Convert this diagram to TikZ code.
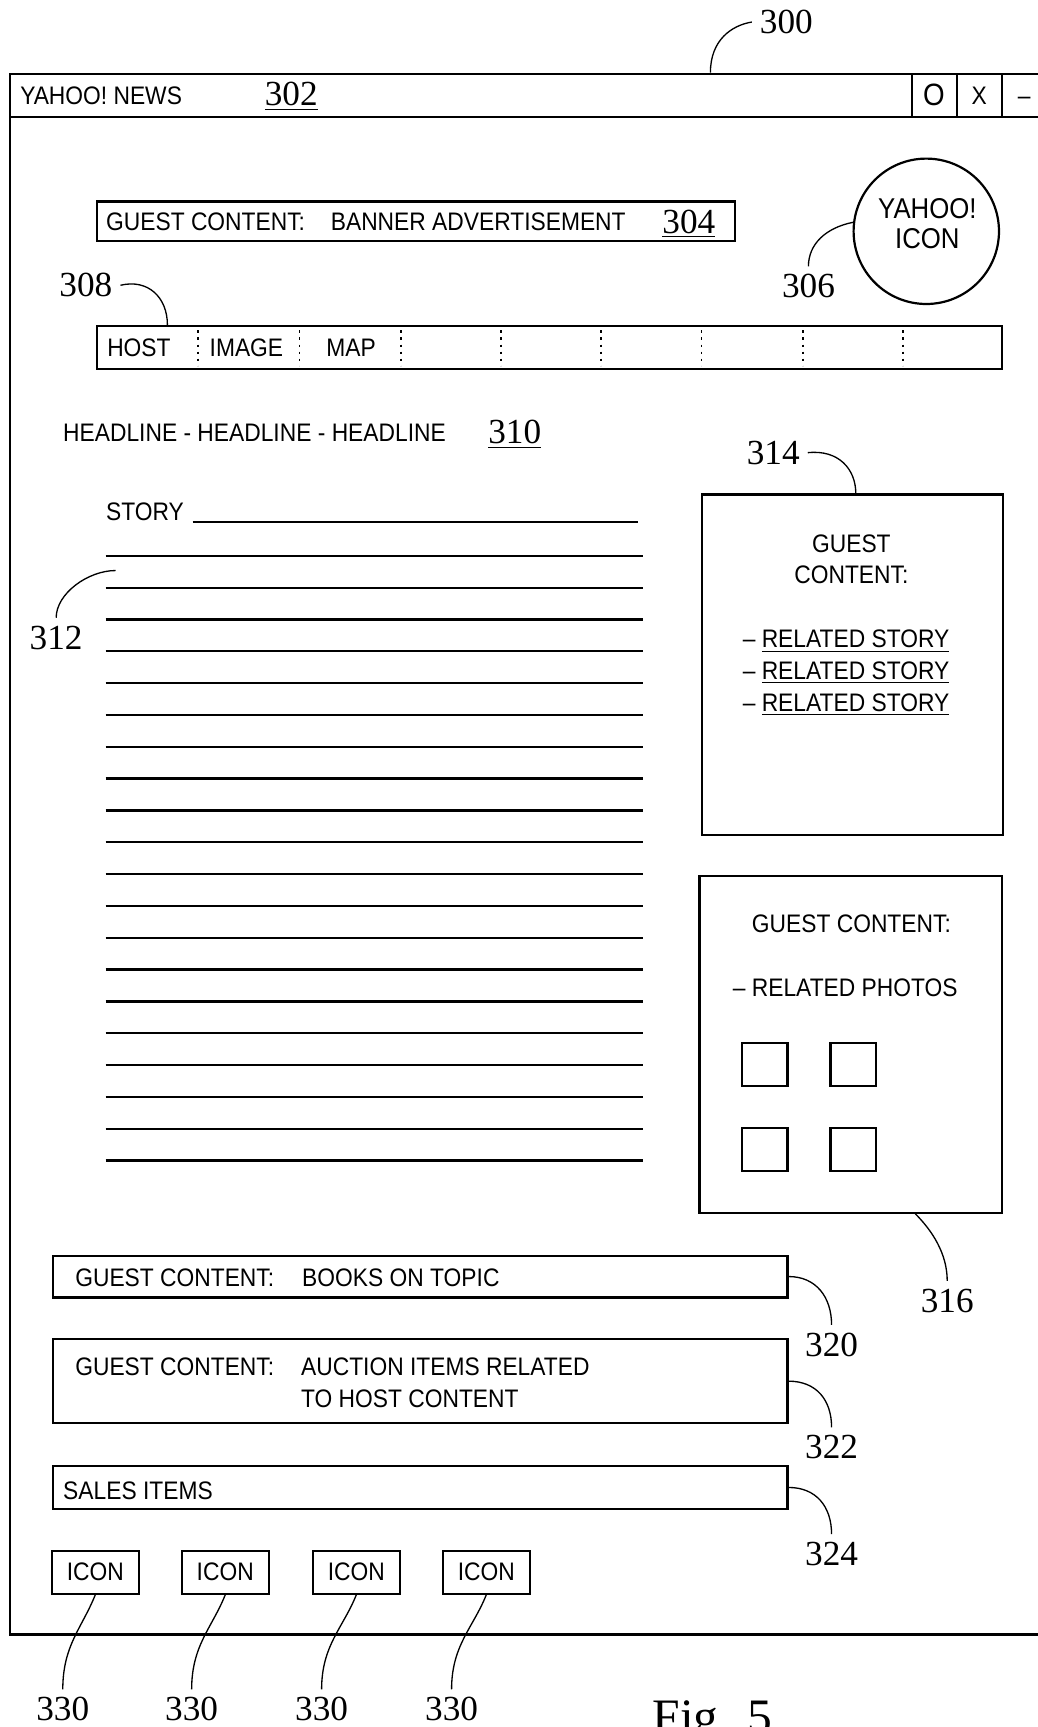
\documentclass[tikz,border=0pt]{standalone}
\usepackage{fontspec}
\newfontfamily\uifont[FakeStretch=0.9]{Liberation Sans}
\newfontfamily\numfont{Liberation Serif}
\usetikzlibrary{calc,fit}
\tikzset{box/.style={draw,line width=1pt,inner sep=0pt},
 txt/.style={font=\uifont\fontsize{11.5}{14}\selectfont,inner sep=0pt},
 num/.style={font=\numfont\fontsize{16}{18}\selectfont,inner sep=3.5pt},
 lead/.style={line width=0.6pt},rule/.style={line width=1pt},
 tabsep/.style={line width=0.8pt,dash pattern=on 1pt off 2.2pt}}

\begin{document}
\begin{tikzpicture}[x=0.5pt,y=-0.5pt]
\useasboundingbox (0,0) rectangle (942,1568);
% window and title bar
\node[box,fit={(9,67) (1000,1484)}] (win) {};
\node[box,fit={(9,67) (1000,106)}] (bar) {};
\node[txt,anchor=base west] (title) at (18,95) {YAHOO! NEWS};
\node[num,anchor=base west,inner sep=0pt] (n302) at (240,96) {\underline{302}};
\foreach \x in {828,869,910} \draw[rule] (\x,67) -- (\x,106);
\node[txt,anchor=base,font=\uifont\fontsize{14}{14}\selectfont] (bmax) at (848,96) {O};
\node[txt,anchor=base] (bclose) at (889,95) {X};
\node[txt,anchor=base] (bmin) at (930,95) {–};
\node[num] (n300) at (714,20) {300};
\draw[lead] ($(win.north west)+(637,0)$) .. controls +(0,-30) and +(-18,3) .. (n300.west);
% banner and logo
\node[box,fit={(88,183) (667,219)}] (banner) {};
\node[txt,anchor=base west] (bang) at (96,209) {GUEST CONTENT:};
\node[txt,anchor=base west] (bant) at (300,209) {BANNER ADVERTISEMENT};
\node[num,anchor=base west,inner sep=0pt] (n304) at (601,212) {\underline{304}};
\node[circle,draw,line width=1pt,minimum size=66pt,inner sep=0pt] (yicon) at (841,210) {};
\node[txt,align=center,font=\uifont\fontsize{13}{14}\selectfont] (yicontxt) at (842,203) {YAHOO!\\ICON};
\node[num] (n306) at (734,260) {306};
\draw[lead] (yicon.173) .. controls +(-25,5) and +(0,-20) .. (n306.north);
% tab row
\node[box,fit={(88,296) (910,335)}] (tabs) {};
\foreach \x in {180,272,364,455,546,637,729,820} \draw[tabsep] (\x,300) -- (\x,332);
\node[txt,anchor=base west] (thost) at (97,324) {HOST};
\node[txt,anchor=base west] (timage) at (190,324) {IMAGE};
\node[txt,anchor=base west] (tmap) at (296,324) {MAP};
\node[num] (n308) at (78,259) {308};
\draw[lead] (n308.east) .. controls +(25,-6) and +(0,-25) .. ($(tabs.north west)+(65,0)$);
% headline and story
\node[txt,anchor=base west] (head) at (57,401) {HEADLINE - HEADLINE - HEADLINE};
\node[num,anchor=base west,inner sep=0pt] (n310) at (443,403) {\underline{310}};
\node[txt,anchor=base west] (story) at (96,473) {STORY};
\draw[rule] (175,474) -- (579,474);
\foreach \i in {0,...,19} \draw[rule] (96,{504.6+28.9*\i}) -- (584,{504.6+28.9*\i});
\coordinate (p312) at (105,518);
\node[num] (n312) at (51,579) {312};
\draw[lead] (p312) .. controls +(-25,0) and +(0,-22) .. (n312.north);
% related stories
\node[box,fit={(637,449) (911,758)}] (rel) {};
\node[txt,align=center] (reltop) at (773,508) {GUEST\\CONTENT:};
\foreach \i in {0,1,2}
 \node[txt,anchor=base west] (rs\i) at (674,{588+29*\i}) {– \underline{RELATED STORY}};
\node[num] (n314) at (702,411) {314};
\draw[lead] (n314.east) .. controls +(28,-3) and +(0,-22) .. ($(rel.north west)+(141,0)$);
% related photos
\node[box,fit={(635,795) (910,1101)}] (photo) {};
\node[txt] (photohead) at (773,839) {GUEST CONTENT:};
\node[txt,anchor=base west] (photos) at (665,905) {– RELATED PHOTOS};
\foreach \x/\y [count=\k] in {674/947,754/947,674/1024,754/1024}
 \node[box,fit={(\x,\y) ({\x+41},{\y+39})}] (ph\k) {};
\node[num] (n316) at (860,1181) {316};
\draw[lead] ($(photo.south west)+(197,0)$) .. controls +(15,15) and +(0,-25) .. (n316.north);
% lower guest content
\node[box,fit={(48,1140) (715,1178)}] (books) {};
\node[txt,anchor=base west] (bookg) at (68,1168) {GUEST CONTENT:};
\node[txt,anchor=base west] (bookt) at (274,1168) {BOOKS ON TOPIC};
\node[num] (n320) at (755,1221) {320};
\draw[lead] (books.east) .. controls +(25,0) and +(0,-25) .. (n320.north);
\node[box,fit={(48,1216) (715,1292)}] (auct) {};
\node[txt,anchor=base west] (auctg) at (68,1249) {GUEST CONTENT:};
\node[txt,anchor=base west] (aucta) at (273,1249) {AUCTION ITEMS RELATED};
\node[txt,anchor=base west] (auctb) at (273,1278) {TO HOST CONTENT};
\node[num] (n322) at (755,1314) {322};
\draw[lead] (auct.east) .. controls +(25,0) and +(0,-25) .. (n322.north);
\node[box,fit={(48,1331) (715,1370)}] (sales) {};
\node[txt,anchor=base west] (salest) at (57,1361) {SALES ITEMS};
\node[num] (n324) at (755,1411) {324};
\draw[lead] (sales.east) .. controls +(25,0) and +(0,-25) .. (n324.north);
% icons
\foreach \x/\lx [count=\k] in {47/57,165/174,284/292,402/410}{
 \node[box,fit={(\x,1408) ({\x+79},1447)}] (ic\k) {};
 \node[txt] (it\k) at (ic\k.center) {ICON};
 \node[num] (m\k) at (\lx,1552) {330};
 \draw[lead] (ic\k.south) .. controls +(-12,30) and +(0,-40) .. (m\k.north);
}
\node[font=\numfont\fontsize{22.5}{26}\selectfont,anchor=base west,inner sep=0pt] (fig) at (592,1574) {Fig. 5};
\end{tikzpicture}
\end{document}
